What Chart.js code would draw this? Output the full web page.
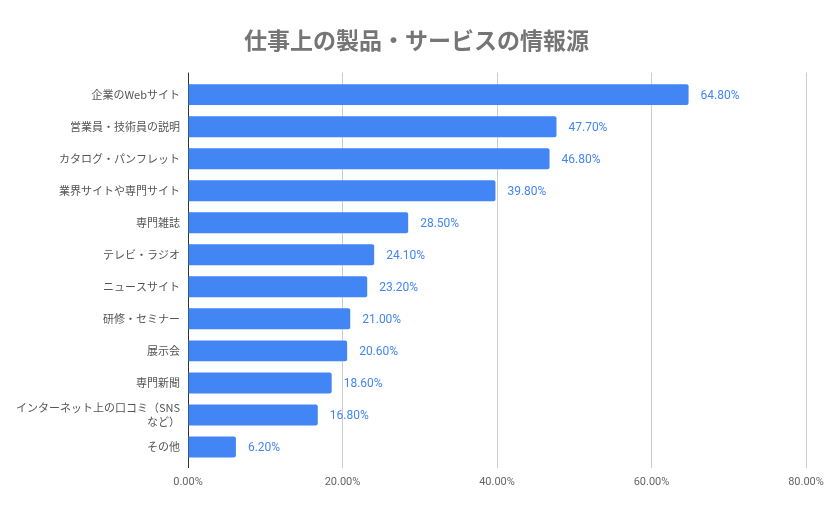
<!DOCTYPE html>
<html>
<head>
<meta charset="utf-8">
<script src="https://cdn.jsdelivr.net/npm/chart.js@4"></script>
<style>
    html, body { margin: 0; padding: 0; background: #fff; }
    #wrap { width: 833px; height: 515px; }
</style>
</head>
<body>
<div id="wrap"><canvas id="chart"></canvas></div>
<script>
const categories = [
    "企業のWebサイト",
    "営業員・技術員の説明",
    "カタログ・パンフレット",
    "業界サイトや専門サイト",
    "専門雑誌",
    "テレビ・ラジオ",
    "ニュースサイト",
    "研修・セミナー",
    "展示会",
    "専門新聞",
    ["インターネット上の口コミ（SNS", "など）"],
    "その他"
];
const shares = [64.8, 47.7, 46.8, 39.8, 28.5, 24.1, 23.2, 21.0, 20.6, 18.6, 16.8, 6.2];
const xTicks = [0, 20, 40, 60, 80];

const JP = "'Noto Sans CJK JP', 'Noto Sans', sans-serif";
const BLUE = "#4285f4";

// value labels to the right of each bar
const barLabels = {
    id: "barLabels",
    afterDatasetsDraw(chart) {
        const ctx = chart.ctx;
        const meta = chart.getDatasetMeta(0);
        ctx.save();
        ctx.font = "12px Roboto";
        ctx.fillStyle = BLUE;
        ctx.textAlign = "left";
        ctx.textBaseline = "middle";
        meta.data.forEach((bar, i) => {
            ctx.fillText(shares[i].toFixed(2) + "%", bar.x + 12, bar.y + 1);
        });
        ctx.restore();
    }
};

const gridColor = (c) => c.index === 0 ? "#333333" : "#cccccc";

new Chart(document.getElementById("chart"), {
    type: "bar",
    plugins: [barLabels],
    data: {
        labels: categories,
        datasets: [{
            data: shares,
            backgroundColor: BLUE,
            borderRadius: 2,
            borderSkipped: "start",
            categoryPercentage: 0.655,
            barPercentage: 1
        }]
    },
    options: {
        indexAxis: "y",
        responsive: true,
        maintainAspectRatio: false,
        animation: false,
        layout: { padding: 0 },
        plugins: {
            legend: { display: false },
            tooltip: { enabled: false },
            title: {
                display: true,
                text: "仕事上の製品・サービスの情報源",
                color: "#757575",
                font: { family: JP, size: 23, weight: "bold" },
                padding: { top: 26, bottom: 19 }
            }
        },
        scales: {
            x: {
                min: 0,
                max: 80,
                afterBuildTicks: (s) => { s.ticks = xTicks.map(v => ({ value: v })); },
                afterFit: (s) => { s.height = 52; },
                border: { display: false },
                grid: { color: gridColor, tickLength: 5, drawTicks: true },
                ticks: {
                    color: "#666666",
                    font: { family: "Roboto", size: 11 },
                    padding: 8,
                    callback: (v) => Number(v).toFixed(2) + "%"
                }
            },
            x2: {
                position: "top",
                min: 0,
                max: 80,
                afterBuildTicks: (s) => { s.ticks = xTicks.map(v => ({ value: v })); },
                border: { display: false },
                grid: { color: gridColor, tickLength: 6, drawOnChartArea: false },
                ticks: { display: false }
            },
            y: {
                afterFit: (s) => { s.width = 188; },
                border: { display: true, color: "#333333", width: 1 },
                grid: { display: false, drawTicks: false },
                ticks: {
                    color: "#555555",
                    font: { family: JP, size: 11, lineHeight: 1.25 },
                    padding: 8
                }
            },
            // empty right-hand strip so the plot ends at 80% near the right edge
            yRight: {
                position: "right",
                afterFit: (s) => { s.width = 27; },
                border: { display: false },
                grid: { display: false, drawTicks: false },
                ticks: { display: false }
            }
        }
    }
});
</script>
</body>
</html>
